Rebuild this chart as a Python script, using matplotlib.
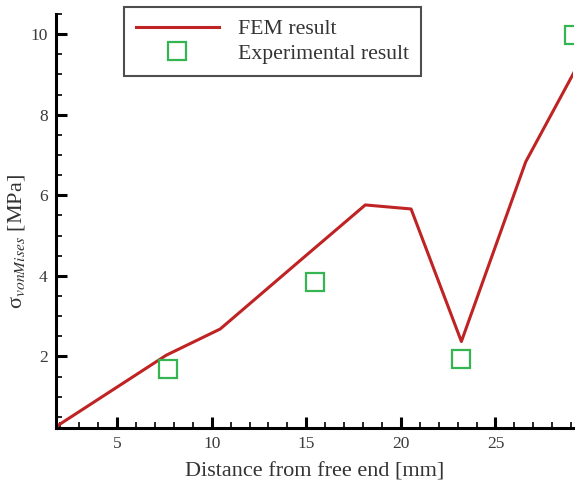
import matplotlib.pyplot as plt
from matplotlib.ticker import MultipleLocator

# FEM curve (distance from free end [mm], von Mises stress [MPa])
fem_x = [1.85, 7.6, 10.45, 14.7, 18.12, 20.54, 23.2, 26.6, 29.14]
fem_y = [0.28, 2.03, 2.68, 4.39, 5.76, 5.66, 2.37, 6.83, 9.04]

# experimental points
exp_x = [7.71, 15.48, 23.2, 29.14]
exp_y = [1.68, 3.85, 1.94, 9.98]

plt.rcParams['font.family'] = ['Liberation Serif', 'DejaVu Serif']
plt.rcParams['mathtext.fontset'] = 'stix'

fig = plt.figure(figsize=(5.85, 4.84), dpi=100)
ax = fig.add_axes([56 / 585, 1 - 427.7 / 484, 517 / 585, (427.7 - 14) / 484])

ax.plot(fem_x, fem_y, color='#bf2323', lw=2.2, label='FEM result')
ax.plot(exp_x, exp_y, ls='none', marker='s', ms=13.5, mfc='none',
        mec='#35b552', mew=1.6, label='Experimental result')

ax.set_xlim(1.77, 29.1)
ax.set_ylim(0.23, 10.5)
ax.xaxis.set_major_locator(MultipleLocator(5))
ax.xaxis.set_minor_locator(MultipleLocator(1))
ax.yaxis.set_major_locator(MultipleLocator(2))
ax.yaxis.set_minor_locator(MultipleLocator(0.5))

for side in ['top', 'right']:
    ax.spines[side].set_visible(False)
for side in ['left', 'bottom']:
    ax.spines[side].set_linewidth(2.2)

ax.tick_params(which='major', direction='in', length=8, width=2.2,
               labelsize=12.5, colors='black', labelcolor='#3a3a3a', pad=6)
ax.tick_params(which='minor', direction='in', length=4.5, width=1.2)

ax.set_xlabel('Distance from free end [mm]', fontsize=16, color='#333333')
ax.set_ylabel('σ$_{vonMises}$ [MPa]', fontsize=16, color='#333333')
ax.xaxis.set_label_coords(0.5, -0.084)
ax.yaxis.set_label_coords(-0.056, 0.451)

leg = fig.legend(loc='upper left', bbox_to_anchor=(124 / 585, 1 - 7 / 484),
                 fontsize=15.7, handlelength=3.8, frameon=True, fancybox=False,
                 edgecolor='#222222', labelspacing=0.2, borderpad=0.55,
                 handletextpad=0.9, borderaxespad=0)
leg.get_frame().set_linewidth(1.5)
for t in leg.get_texts():
    t.set_color('#333333')

fig.savefig('out.png', dpi=100)
